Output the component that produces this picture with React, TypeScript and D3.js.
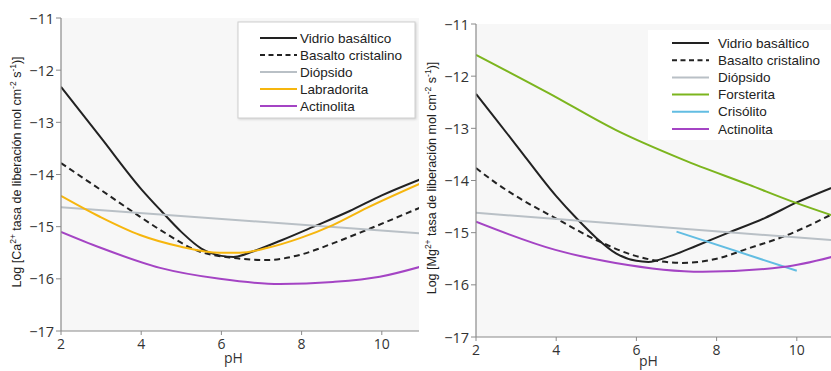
import * as d3 from 'd3';

// --- data (pH vs log release rate) ---
const pHTicks = [2, 4, 6, 8, 10];
const logTicks = [-11, -12, -13, -14, -15, -16, -17];

// Ca panel
const vidrioCaPH = [2, 3, 4, 4.5, 5, 5.5, 6, 6.3, 6.8, 7.5, 8.3, 9.2, 10, 11];
const vidrioCa = [-12.32, -13.3, -14.28, -14.7, -15.1, -15.42, -15.56, -15.58, -15.47, -15.26, -15.0, -14.7, -14.4, -14.08];
const basaltoCaPH = [2, 3, 3.8, 4.47, 5.47, 6.3, 7.13, 7.96, 8.78, 9.63, 11];
const basaltoCa = [-13.78, -14.3, -14.72, -15.06, -15.48, -15.6, -15.64, -15.54, -15.32, -15.06, -14.62];
const diopsidoCaPH = [2, 11];
const diopsidoCa = [-14.63, -15.13];
const labradoritaPH = [2, 2.97, 3.97, 4.97, 5.96, 6.46, 7.13, 7.96, 8.78, 9.63, 11];
const labradorita = [-14.41, -14.81, -15.16, -15.38, -15.5, -15.5, -15.41, -15.22, -14.97, -14.64, -14.16];
const actinolitaCaPH = [2, 2.97, 4.47, 5.96, 7.46, 8.78, 9.95, 11];
const actinolitaCa = [-15.1, -15.4, -15.79, -16.0, -16.1, -16.06, -15.96, -15.76];

// Mg panel
const vidrioMgPH = [2, 3, 4, 4.5, 5, 5.5, 6, 6.3, 6.8, 7.5, 8.3, 9.2, 10, 11];
const vidrioMg = [-12.34, -13.32, -14.3, -14.72, -15.1, -15.4, -15.54, -15.56, -15.46, -15.25, -15.0, -14.72, -14.42, -14.1];
const basaltoMgPH = [2, 2.5, 3, 4, 5, 6, 7.15, 8, 8.8, 9.65, 11];
const basaltoMg = [-13.76, -14.05, -14.3, -14.73, -15.14, -15.45, -15.58, -15.5, -15.3, -15.08, -14.6];
const diopsidoMgPH = [2, 11];
const diopsidoMg = [-14.62, -15.15];
const forsteritaPH = [2, 3.8, 5.48, 7.16, 8.8, 9.98, 11];
const forsterita = [-11.59, -12.32, -13.03, -13.6, -14.08, -14.43, -14.7];
const crisolitoPH = [7, 10];
const crisolito = [-14.98, -15.73];
const actinolitaMgPH = [2, 3.98, 5.48, 7.65, 9.65, 11];
const actinolitaMg = [-14.79, -15.33, -15.58, -15.75, -15.66, -15.44];

type Series = { name: string; color: string; dash?: string; xs: number[]; ys: number[] };

const caSeries: Series[] = [
  { name: 'Vidrio basáltico', color: '#222', xs: vidrioCaPH, ys: vidrioCa },
  { name: 'Basalto cristalino', color: '#222', dash: '6,4', xs: basaltoCaPH, ys: basaltoCa },
  { name: 'Diópsido', color: '#b9c0c6', xs: diopsidoCaPH, ys: diopsidoCa },
  { name: 'Labradorita', color: '#f6b60e', xs: labradoritaPH, ys: labradorita },
  { name: 'Actinolita', color: '#a444c4', xs: actinolitaCaPH, ys: actinolitaCa },
];

const mgSeries: Series[] = [
  { name: 'Vidrio basáltico', color: '#222', xs: vidrioMgPH, ys: vidrioMg },
  { name: 'Basalto cristalino', color: '#222', dash: '6,4', xs: basaltoMgPH, ys: basaltoMg },
  { name: 'Diópsido', color: '#b9c0c6', xs: diopsidoMgPH, ys: diopsidoMg },
  { name: 'Forsterita', color: '#7cb51e', xs: forsteritaPH, ys: forsterita },
  { name: 'Crisólito', color: '#62bde2', xs: crisolitoPH, ys: crisolito },
  { name: 'Actinolita', color: '#a444c4', xs: actinolitaMgPH, ys: actinolitaMg },
];

const TICK_FONT = '"Open Sans", "DejaVu Sans", sans-serif';
const LABEL_FONT = '"Liberation Sans", Arial, sans-serif';

function Panel({ id, left, top, right, ion, series, legend, labelX, labelY, pHOffset }) {
  const x = d3.scaleLinear().domain([2, 11]).range([left, left + 9 * 40.1]);
  const y = d3.scaleLinear().domain([-11, -17]).range([top, top + 313]);
  const bottom = y(-17);
  const line = d3
    .line<[number, number]>()
    .x((d) => x(d[0]))
    .y((d) => y(d[1]))
    .curve(d3.curveMonotoneX);

  return (
    <g>
      <defs>
        <clipPath id={id}>
          <rect x={left} y={top - 2} width={right - left} height={bottom - top + 2} />
        </clipPath>
      </defs>
      <rect x={left} y={top} width={right - left} height={bottom - top} fill="#f7f7f7" />

      <g clipPath={`url(#${id})`}>
        {series.map((s) => (
          <path
            key={s.name}
            d={line(s.xs.map((v, i) => [v, s.ys[i]]))}
            fill="none"
            stroke={s.color}
            strokeWidth={2}
            strokeDasharray={s.dash}
          />
        ))}
      </g>

      {/* axes */}
      <line x1={left} x2={left} y1={top} y2={bottom} stroke="#8a8a8a" strokeWidth={1.2} />
      <line x1={left} x2={right} y1={bottom} y2={bottom} stroke="#8a8a8a" strokeWidth={1.2} />
      {logTicks.map((t) => (
        <g key={t}>
          <line x1={left - 5} x2={left} y1={y(t)} y2={y(t)} stroke="#8a8a8a" />
          <text
            x={left - 7}
            y={y(t)}
            textAnchor="end"
            dominantBaseline="central"
            fontSize={14.5}
            fontFamily={TICK_FONT}
            fill="#333"
          >
            {`−${Math.abs(t)}`}
          </text>
        </g>
      ))}
      {pHTicks.map((t) => (
        <g key={t}>
          <line x1={x(t)} x2={x(t)} y1={bottom} y2={bottom + 4} stroke="#8a8a8a" />
          <text
            x={x(t)}
            y={bottom + 12}
            textAnchor="middle"
            dominantBaseline="central"
            fontSize={14}
            fontFamily={TICK_FONT}
            fill="#333"
          >
            {t}
          </text>
        </g>
      ))}
      <text x={x(6.3)} y={bottom + pHOffset} textAnchor="middle" fontSize={14} fontFamily={TICK_FONT} fill="#333">
        pH
      </text>

      <text
        transform={`translate(${labelX},${labelY}) rotate(-90)`}
        textAnchor="middle"
        dominantBaseline="central"
        fontSize={12.5}
        fontFamily={LABEL_FONT}
        fill="#222"
      >
        {`Log [${ion}`}
        <tspan fontSize={8.5} dy={-4}>2+</tspan>
        <tspan dy={4}> tasa de liberación mol cm</tspan>
        <tspan fontSize={8.5} dy={-4}>-2</tspan>
        <tspan dy={4}> s</tspan>
        <tspan fontSize={8.5} dy={-4}>-1</tspan>
        <tspan dy={4}>)]</tspan>
      </text>

      {/* legend */}
      <rect
        x={legend.x}
        y={legend.y}
        width={legend.w}
        height={legend.h}
        fill="#fff"
        stroke={legend.border ? '#cfcfcf' : 'none'}
        style={legend.border ? { filter: 'drop-shadow(1px 1px 1px rgba(0,0,0,0.15))' } : undefined}
      />
      {series.map((s, i) => {
        const ly = legend.y0 + i * legend.step;
        return (
          <g key={s.name}>
            <line
              x1={legend.lx}
              x2={legend.lx + 37}
              y1={ly}
              y2={ly}
              stroke={s.color}
              strokeWidth={2}
              strokeDasharray={s.dash ? '5,3.5' : undefined}
            />
            <text
              x={legend.tx}
              y={ly}
              dominantBaseline="central"
              fontSize={13.5}
              fontFamily={LABEL_FONT}
              fill="#222"
            >
              {s.name}
            </text>
          </g>
        );
      })}
    </g>
  );
}

export default function App() {
  return (
    <svg
      width={831}
      height={371}
      style={{ position: 'absolute', left: 0, top: 0, background: '#fff' }}
    >
      <Panel
        id="clipCa"
        left={61}
        top={18}
        right={419}
        ion="Ca"
        series={caSeries}
        legend={{ x: 238, y: 22, w: 177, h: 96, border: true, y0: 38, step: 17, lx: 260, tx: 300 }}
        labelX={17}
        labelY={172}
        pHOffset={32}
      />
      <Panel
        id="clipMg"
        left={476}
        top={24}
        right={831}
        ion="Mg"
        series={mgSeries}
        legend={{ x: 648, y: 30, w: 183, h: 110, border: false, y0: 43, step: 17.2, lx: 672, tx: 718 }}
        labelX={432}
        labelY={178}
        pHOffset={29}
      />
    </svg>
  );
}
